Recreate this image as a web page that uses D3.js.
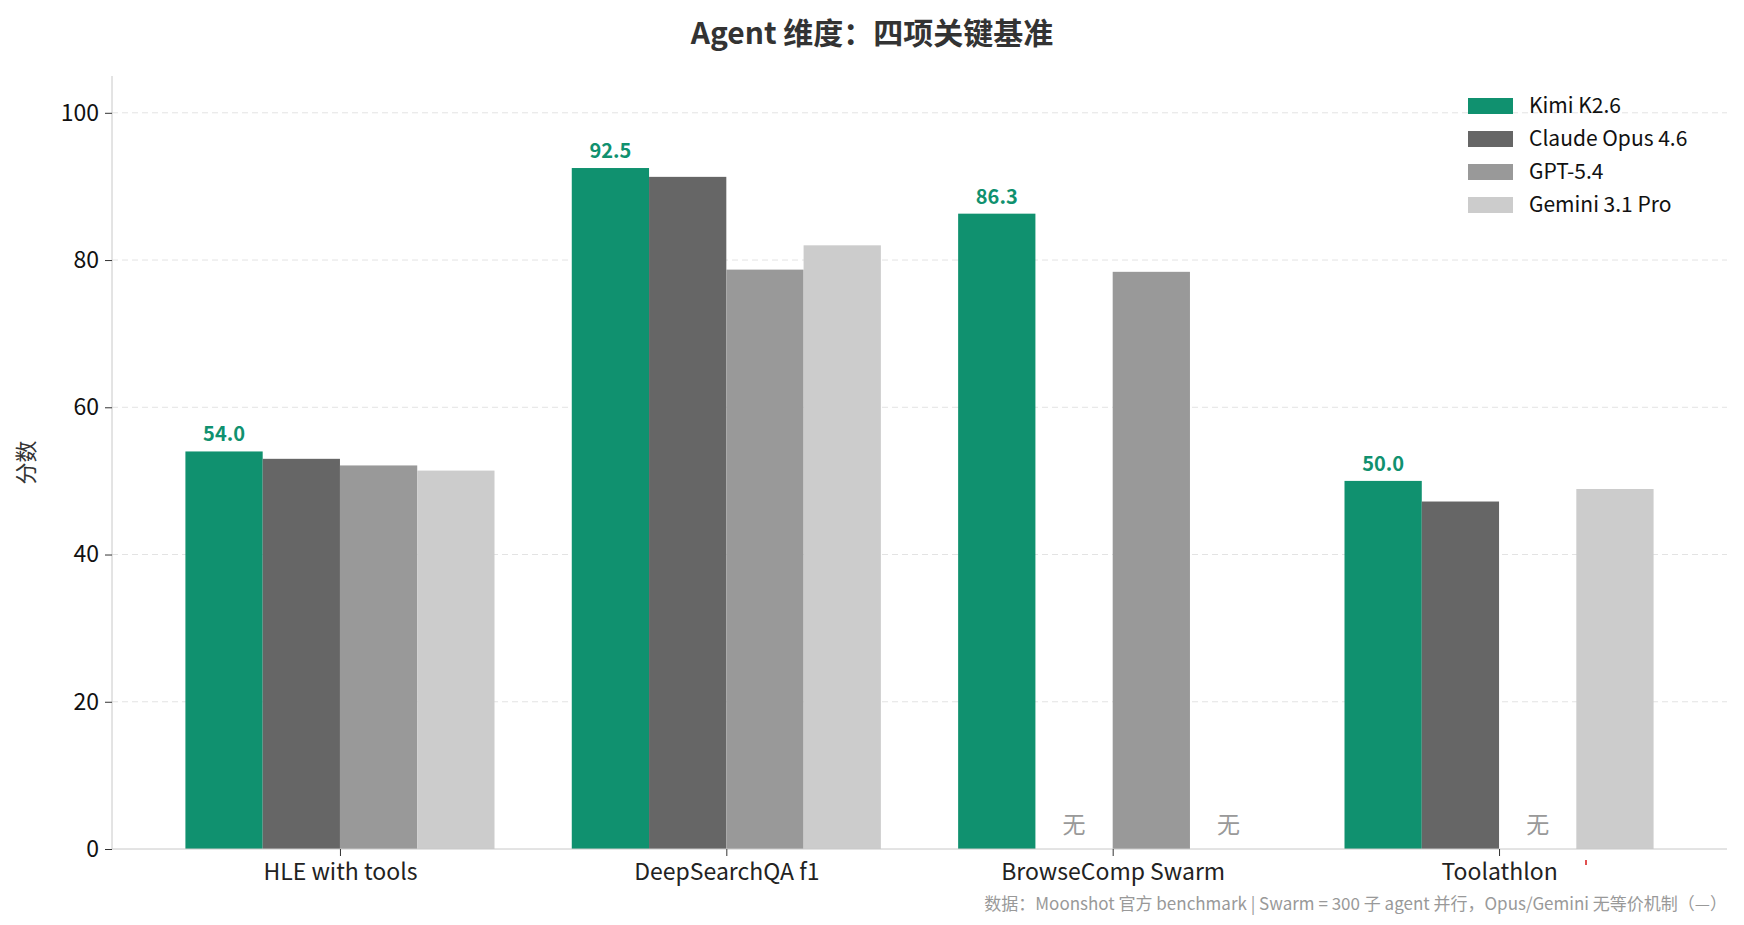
<!DOCTYPE html>
<html><head><meta charset="utf-8">
<script src="https://cdn.jsdelivr.net/npm/d3@7"></script>
<style>body{margin:0;background:#fff}text{font-family:"Noto Sans CJK SC","Noto Sans",sans-serif}</style>
</head><body><div id="chart"></div>
<script>
const categories = ["HLE with tools", "DeepSearchQA f1", "BrowseComp Swarm", "Toolathlon"]
const models = ["Kimi K2.6", "Claude Opus 4.6", "GPT-5.4", "Gemini 3.1 Pro"]
const colors = ["#10916f", "#666666", "#999999", "#cccccc"]
const kimi = [54.0, 92.5, 86.3, 50.0]
const claude = [53.0, 91.3, null, 47.2]
const gpt = [52.1, 78.7, 78.4, null]
const gemini = [51.4, 82.0, null, 48.9]
const yTicks = [0, 20, 40, 60, 80, 100]

const series = [kimi, claude, gpt, gemini]
const W = 1744, H = 925
const m = {left: 112, right: 1727, top: 76, bottom: 849}
const svg = d3.select("#chart").append("svg").attr("width", W).attr("height", H)

const x = d3.scaleLinear().domain([-0.59, 3.59]).range([m.left, m.right])
const y = d3.scaleLinear().domain([0, 105]).range([m.bottom, m.top])
const bw = 0.2

svg.append("text").attr("x", W/2).attr("y", 44).attr("text-anchor", "middle")
  .style("font-size", "30px").style("font-weight", "bold").attr("fill", "#333")
  .text("Agent 维度：四项关键基准")

// grid
svg.selectAll(".grid").data(yTicks.filter(d => d > 0)).enter().append("line")
  .attr("x1", m.left).attr("x2", m.right)
  .attr("y1", d => y(d)).attr("y2", d => y(d))
  .attr("stroke", "#e3e3e3").attr("stroke-dasharray", "6,4")

// bars
series.forEach((vals, j) => {
  const g = svg.append("g")
  vals.forEach((v, i) => {
    const cx = i + (j - 1.5) * bw
    if (v == null) {
      g.append("text").attr("x", x(cx)).attr("y", y(0) - 16)
        .attr("text-anchor", "middle").style("font-size", "23px").attr("fill", "#999").text("无")
      return
    }
    g.append("rect").attr("x", x(cx - bw/2)).attr("width", x(bw) - x(0))
      .attr("y", y(v)).attr("height", y(0) - y(v)).attr("fill", colors[j])
    if (j === 0) {
      g.append("text").attr("x", x(cx)).attr("y", y(v) - 10).attr("text-anchor", "middle")
        .style("font-size", "20px").style("font-weight", "bold").attr("fill", colors[0])
        .text(v.toFixed(1))
    }
  })
})

// axes
const ya = svg.append("g").attr("transform", `translate(${m.left},0)`)
  .call(d3.axisLeft(y).tickValues(yTicks).tickSize(7).tickPadding(6))
ya.select(".domain").attr("d", `M0,${m.top}V${m.bottom}`)
const xa = svg.append("g").attr("transform", `translate(0,${m.bottom})`)
  .call(d3.axisBottom(x).tickValues([0, 1, 2, 3]).tickFormat(i => categories[i]).tickSize(7).tickPadding(8))
xa.select(".domain").attr("d", `M${m.left},0H${m.right}`)
svg.selectAll(".domain").attr("stroke", "#c8c8c8")
svg.selectAll(".tick line").attr("stroke", "#333")
ya.selectAll(".tick text").style("font-size", "23px").attr("fill", "#111")
xa.selectAll(".tick text").style("font-size", "23px").attr("fill", "#222")

svg.append("text").attr("transform", `translate(34,${(m.top + m.bottom)/2}) rotate(-90)`)
  .attr("text-anchor", "middle").style("font-size", "22px").attr("fill", "#333").text("分数")

// legend
const lg = svg.append("g").attr("transform", "translate(1468,98)")
models.forEach((d, j) => {
  lg.append("rect").attr("x", 0).attr("y", j * 33).attr("width", 45).attr("height", 16).attr("fill", colors[j])
  lg.append("text").attr("x", 61).attr("y", j * 33 + 15).style("font-size", "21px").attr("fill", "#111").text(d)
})

svg.append("rect").attr("x", 1585).attr("y", 860).attr("width", 2).attr("height", 5).attr("fill", "#e05050")

svg.append("text").attr("x", m.right).attr("y", 910).attr("text-anchor", "end")
  .style("font-size", "17px").attr("fill", "#999")
  .text("数据：Moonshot 官方 benchmark | Swarm = 300 子 agent 并行，Opus/Gemini 无等价机制（—）")
</script></body></html>
